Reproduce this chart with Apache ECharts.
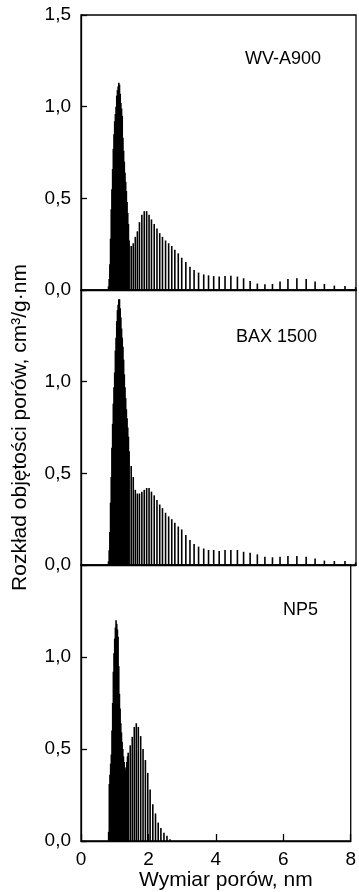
<!DOCTYPE html>
<html>
<head>
<meta charset="utf-8">
<script src="https://cdn.jsdelivr.net/npm/echarts@6/dist/echarts.min.js"></script>
<style>
  html, body { margin: 0; padding: 0; background: #fff; }
  #chart { width: 359px; height: 892px; }
</style>
</head>
<body>
<div id="chart"></div>
<script>
// Wymiar porów (nm) - wspólna siatka dla wszystkich próbek
const sizes = [
  0.80, 0.82, 0.84, 0.86, 0.88, 0.90, 0.92, 0.94, 0.96, 0.98, 1.00, 1.02, 1.04, 1.06, 1.08, 1.10,
  1.12, 1.14, 1.16, 1.18, 1.20, 1.22, 1.24, 1.26, 1.28, 1.30, 1.32, 1.34, 1.36, 1.38, 1.40,
  1.46, 1.52, 1.58, 1.64, 1.70, 1.77, 1.84, 1.91, 1.98, 2.05, 2.13, 2.21, 2.29, 2.37, 2.46,
  2.55, 2.64, 2.73, 2.83, 2.93,
  3.05, 3.17, 3.29, 3.42, 3.57, 3.71, 3.86, 4.02, 4.19, 4.36, 4.55, 4.73, 4.92, 5.13, 5.35,
  5.57, 5.79, 6.02, 6.28, 6.55, 6.81, 7.08, 7.37, 7.68, 7.99
];

// rozkład objętości porów, cm3/g·nm
const wvA900 = [
  0.02, 0.06, 0.14, 0.28, 0.44, 0.55, 0.66, 0.77, 0.85, 0.92, 0.96, 1.00, 1.06, 1.09, 1.11, 1.13,
  1.12, 1.07, 1.02, 0.99, 0.95, 0.83, 0.76, 0.70, 0.64, 0.59, 0.54, 0.48, 0.42, 0.36, 0.27,
  0.24, 0.255, 0.29, 0.32, 0.37, 0.41, 0.43, 0.43, 0.41, 0.385, 0.36, 0.335, 0.31, 0.29, 0.27,
  0.255, 0.24, 0.22, 0.20, 0.176,
  0.153, 0.127, 0.109, 0.095, 0.085, 0.080, 0.076, 0.073, 0.076, 0.078, 0.073, 0.064, 0.049, 0.035, 0.031,
  0.033, 0.047, 0.060, 0.064, 0.060, 0.047, 0.033, 0.024, 0.022, 0.015
];

const bax1500 = [
  0.02, 0.08, 0.18, 0.34, 0.48, 0.64, 0.77, 0.88, 0.97, 1.05, 1.17, 1.24, 1.33, 1.39, 1.42, 1.45,
  1.45, 1.40, 1.35, 1.29, 1.24, 1.19, 1.12, 1.04, 0.97, 0.91, 0.85, 0.80, 0.75, 0.70, 0.62,
  0.54, 0.48, 0.41, 0.39, 0.39, 0.40, 0.41, 0.42, 0.42, 0.40, 0.38, 0.355, 0.33, 0.31, 0.285,
  0.265, 0.25, 0.23, 0.21, 0.194,
  0.163, 0.136, 0.114, 0.10, 0.09, 0.082, 0.082, 0.076, 0.082, 0.082, 0.082, 0.072, 0.067, 0.058, 0.045,
  0.042, 0.045, 0.049, 0.049, 0.045, 0.036, 0.024, 0.022, 0.022, 0.013
];

const np5 = [
  0, 0.05, 0.31, 0.36, 0.42, 0.47, 0.60, 0.75, 0.92, 1.02, 1.10, 1.16, 1.20, 1.18, 1.15, 1.11,
  0.95, 0.80, 0.72, 0.64, 0.59, 0.54, 0.50, 0.46, 0.43, 0.40, 0.385, 0.40, 0.43, 0.46, 0.48,
  0.52, 0.566, 0.62, 0.64, 0.62, 0.57, 0.50, 0.44, 0.37, 0.28, 0.20, 0.15, 0.10, 0.07, 0.045,
  0.028, 0.01, 0, 0, 0,
  0, 0, 0, 0, 0, 0, 0, 0, 0, 0, 0, 0, 0, 0, 0,
  0, 0, 0, 0, 0, 0, 0, 0, 0, 0
];

const panelNames = ['WV-A900', 'BAX 1500', 'NP5'];
const panelSeries = [wvA900, bax1500, np5];

const xTicks = [0, 2, 4, 6, 8];
const yTicks = [0, 0.5, 1.0, 1.5];

const FONT = '"Liberation Sans", Arial, sans-serif';

const chart = echarts.init(document.getElementById('chart'));

// panele: góra i wysokość w px
const panels = [
  { top: 15, height: 275 },
  { top: 290, height: 275 },
  { top: 565, height: 276 }
];

const grids = panels.map(p => ({
  left: 81, width: 275, top: p.top, height: p.height,
  show: true, borderColor: '#000', borderWidth: 1.3, backgroundColor: 'transparent'
}));

const xAxes = panels.map((p, i) => {
  const last = i === panels.length - 1;
  return {
    type: 'value', gridIndex: i,
    min: xTicks[0], max: xTicks[xTicks.length - 1], interval: 2,
    axisLine: { show: true, onZero: false, lineStyle: { color: '#000', width: 1.3 } },
    axisTick: { show: last, inside: true, length: 7, lineStyle: { color: '#000', width: 1.3 } },
    axisLabel: { show: last, margin: 9, color: '#000', fontSize: 19, fontFamily: FONT },
    splitLine: { show: false },
    name: last ? 'Wymiar porów, nm' : '',
    nameLocation: 'middle', nameGap: 29,
    nameTextStyle: { color: '#000', fontSize: 21, fontFamily: FONT, padding: [0, 0, 0, 20] }
  };
});

const yAxes = panels.map((p, i) => ({
  type: 'value', gridIndex: i,
  min: yTicks[0], max: yTicks[yTicks.length - 1], interval: 0.5,
  axisLine: { show: true, lineStyle: { color: '#000', width: 1.3 } },
  axisTick: { show: true, inside: true, length: 6, lineStyle: { color: '#000', width: 1.3 } },
  axisLabel: {
    margin: 10, color: '#000', fontSize: 19, fontFamily: FONT,
    showMaxLabel: i === 0,
    formatter: v => v.toFixed(1).replace('.', ',')
  },
  splitLine: { show: false },
  name: i === 1 ? 'Rozkład objętości porów, cm³/g·nm' : '',
  nameLocation: 'middle', nameGap: 50, nameRotate: 90,
  nameTextStyle: { color: '#000', fontSize: 21, fontFamily: FONT }
}));

const series = panelSeries.map((vals, i) => ({
  name: panelNames[i],
  type: 'bar',
  xAxisIndex: i, yAxisIndex: i,
  barWidth: 1.6,
  itemStyle: { color: '#000' },
  data: sizes.map((x, k) => [x, vals[k]]),
  silent: true
}));

// podpisy próbek
const labelPos = [[321, 59], [317, 337], [318, 610]];
const graphic = panelNames.map((n, i) => ({
  type: 'text', x: labelPos[i][0], y: labelPos[i][1],
  style: { text: n, fill: '#000', font: '18px ' + FONT, textAlign: 'right', textVerticalAlign: 'middle' }
}));

chart.setOption({
  backgroundColor: '#fff',
  animation: false,
  grid: grids,
  xAxis: xAxes,
  yAxis: yAxes,
  series: series,
  graphic: graphic
});
</script>
</body>
</html>
